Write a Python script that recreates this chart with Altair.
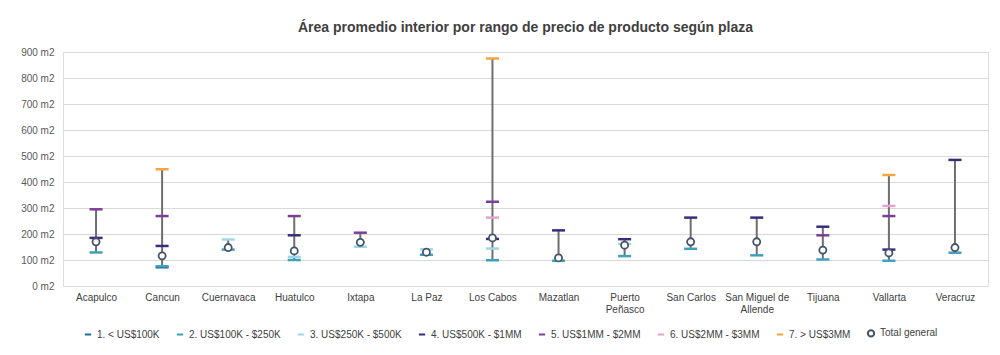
import altair as alt
import pandas as pd

plazas = ["Acapulco", "Cancun", "Cuernavaca", "Huatulco", "Ixtapa", "La Paz", "Los Cabos",
          "Mazatlan", "Puerto Peñasco", "San Carlos", "San Miguel de Allende", "Tijuana",
          "Vallarta", "Veracruz"]

series = ["1. < US$100K", "2. US$100K - $250K", "3. US$250K - $500K", "4. US$500K - $1MM",
          "5. US$1MM - $2MM", "6. US$2MM - $3MM", "7. > US$3MM", "Total general"]

s1 = [None, 72, None, None, None, None, None, None, None, None, None, None, None, None]
s2 = [129, 76, 140, 100, None, 120, 99, 97, 115, 143, 118, 102, 97, 128]
s3 = [None, None, 179, 112, 151, 141, 144, None, 162, None, None, None, None, None]
s4 = [185, 154, None, 195, None, None, 181, 214, 180, 263, 263, 228, 140, 485]
s5 = [295, 269, None, 269, 205, None, 324, None, None, None, None, 195, 269, None]
s6 = [None, None, None, None, None, None, 263, None, None, None, None, None, 308, None]
s7 = [None, 449, None, None, None, None, 875, None, None, None, None, None, 427, None]
total = [170, 116, 148, 135, 168, 130, 185, 108, 157, 170, 170, 138, 127, 148]

y_ticks = [0, 100, 200, 300, 400, 500, 600, 700, 800, 900]

colors = ["#1f6e8e", "#3f9fbf", "#9ed8e6", "#3b2c7e", "#7c3f98", "#e4a3cf", "#f5a53f", "#44546a"]
dash = "M-1,0L1,0"
shapes = [dash] * 7 + ["circle"]

rows = []
for name, vals in zip(series, [s1, s2, s3, s4, s5, s6, s7, total]):
    for p, v in zip(plazas, vals):
        if v is not None:
            rows.append({"plaza": p, "serie": name, "valor": v})
df = pd.DataFrame(rows)

x_enc = alt.X("plaza:N", sort=plazas, title=None,
              scale=alt.Scale(type="point", padding=0.5),
              axis=alt.Axis(labelAngle=0, ticks=False, grid=False, domain=False,
                            labelPadding=6, labelFontSize=10, labelColor="#404040",
                            labelExpr="datum.value == 'Puerto Peñasco' ? ['Puerto', 'Peñasco'] : datum.value == 'San Miguel de Allende' ? ['San Miguel de', 'Allende'] : datum.value"))
y_scale = alt.Scale(domain=[0, 900], nice=False)
y_axis = alt.Axis(values=y_ticks, tickCount=10, format="d", labelExpr="datum.label + ' m2'",
                  title=None, grid=True, ticks=False, domain=False, domainOpacity=0)

base = alt.Chart(df)

rule = base.transform_aggregate(
    lo="min(valor)", hi="max(valor)", groupby=["plaza"]
).mark_rule(color="#6e6e6e", strokeWidth=2).encode(
    x=x_enc,
    y=alt.Y("lo:Q", scale=y_scale, axis=y_axis),
    y2="hi:Q",
)

color_enc = alt.Color("serie:N", scale=alt.Scale(domain=series, range=colors),
                      legend=alt.Legend(title=None, orient="bottom", direction="horizontal",
                                        labelFontSize=10, labelColor="#404040",
                                        symbolSize=40, symbolStrokeWidth=2,
                                        columnPadding=12, offset=-6, padding=20))
shape_enc = alt.Shape("serie:N", scale=alt.Scale(domain=series, range=shapes))

dashes = base.transform_filter(alt.datum.serie != "Total general").mark_point(
    filled=False, strokeWidth=2.5, size=170, opacity=1).encode(
    x=x_enc, y=alt.Y("valor:Q", scale=y_scale, axis=y_axis),
    color=color_enc, shape=shape_enc)

circles = base.transform_filter(alt.datum.serie == "Total general").mark_point(
    filled=False, fill="white", strokeWidth=1.8, size=50, opacity=1).encode(
    x=x_enc, y=alt.Y("valor:Q", scale=y_scale, axis=y_axis),
    color=color_enc, shape=shape_enc)

chart = alt.layer(rule, dashes, circles).properties(
    width=925, height=234,
    title=alt.TitleParams("Área promedio interior por rango de precio de producto según plaza",
                          fontSize=14, fontWeight="bold", color="#404040", offset=12),
    padding={"left": 20, "top": 21, "right": 10, "bottom": 5},
).configure_view(strokeWidth=0, stroke="transparent").configure(font="Liberation Sans").configure_axis(
    domain=False, domainOpacity=0).configure_axisY(
    tickCount=10, gridColor="#d9d9d9", gridWidth=1, labelOverlap=False, domain=False,
    labelPadding=9, labelFontSize=10, labelColor="#595959").configure_axisX(grid=False)

chart.save("out.html", embed_options={"renderer": "svg", "actions": False})
